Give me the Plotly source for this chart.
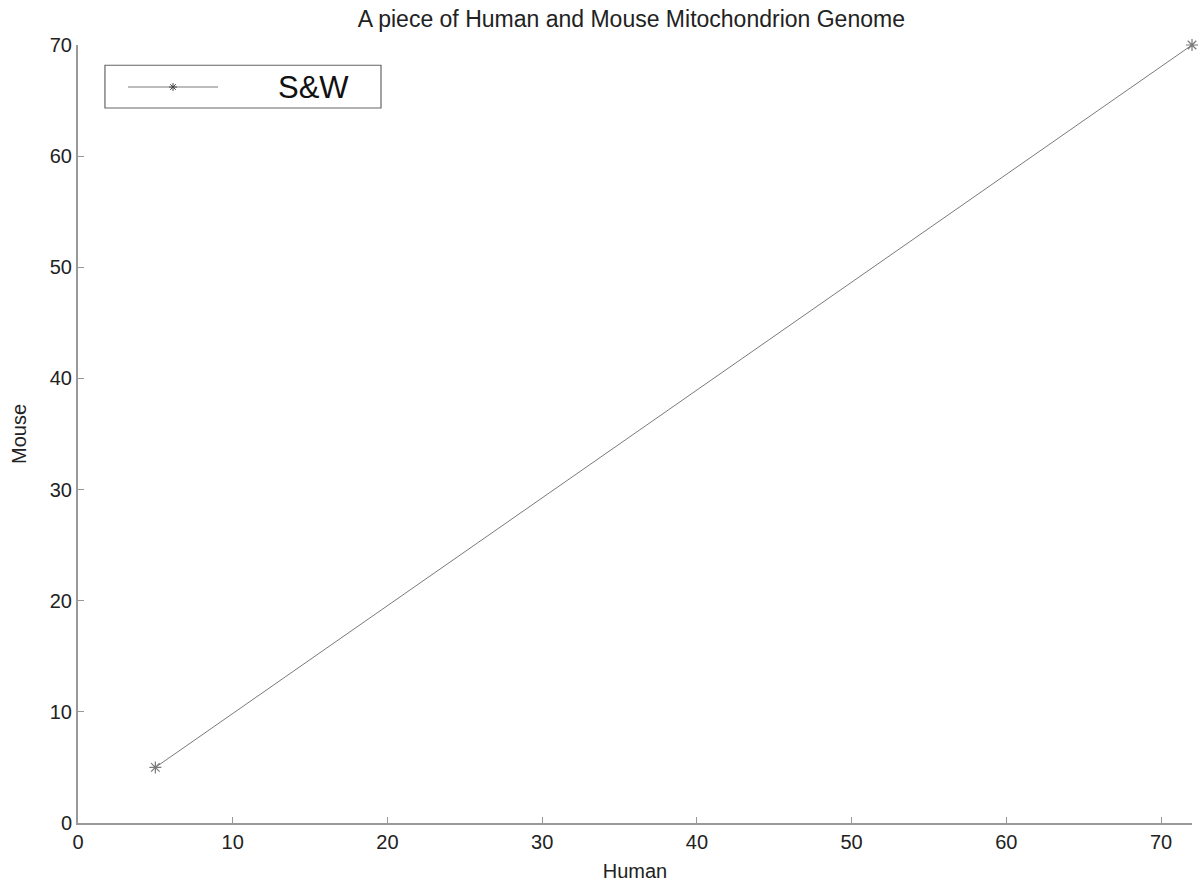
import plotly.graph_objects as go

# Alignment endpoints (Human position vs Mouse position)
human = [5, 72]
mouse = [5, 70]
series_name = "S&W"

x_ticks = [0, 10, 20, 30, 40, 50, 60, 70]
y_ticks = [0, 10, 20, 30, 40, 50, 60, 70]

FONT = "Liberation Sans, Arial, Helvetica, sans-serif"
AXIS_GRAY = "#999999"
LINE_GRAY = "#7a7a7a"
TEXT = "#222222"

fig = go.Figure()
fig.add_trace(go.Scatter(
    x=human, y=mouse, mode="lines+markers", name=series_name,
    line=dict(color=LINE_GRAY, width=1),
    marker=dict(symbol="asterisk-open", size=10,
                line=dict(color="#444444", width=1.2)),
    showlegend=False, cliponaxis=False,
))

axis_common = dict(
    showgrid=False, zeroline=False, showline=True, linecolor=AXIS_GRAY,
    linewidth=2, ticks="inside", ticklen=6, tickwidth=1, tickcolor=AXIS_GRAY,
    tickfont=dict(family=FONT, size=20, color=TEXT), mirror=False,
)

fig.update_layout(
    width=1198, height=887,
    margin=dict(l=78, r=6, t=45, b=64),
    paper_bgcolor="white", plot_bgcolor="white",
    title=dict(text="A piece of Human and Mouse Mitochondrion Genome",
               x=0.527, xanchor="center", y=0.979, yanchor="middle",
               font=dict(family=FONT, size=23, color=TEXT)),
    xaxis=dict(range=[0, 72], tickvals=x_ticks,
               title=dict(text="Human", font=dict(family=FONT, size=20, color=TEXT),
                          standoff=12),
               **axis_common),
    yaxis=dict(range=[0, 70], tickvals=y_ticks,
               title=dict(text="Mouse", font=dict(family=FONT, size=20, color=TEXT),
                          standoff=18),
               **axis_common),
)

# Legend box drawn by hand so the sample line can be long
leg_y = 0.946
fig.add_shape(type="rect", xref="paper", yref="paper",
              x0=0.0242, x1=0.272, y0=0.919, y1=0.974,
              line=dict(color="#666666", width=1.2), fillcolor="white")
fig.add_shape(type="line", xref="paper", yref="paper",
              x0=0.0449, x1=0.1257, y0=leg_y, y1=leg_y,
              line=dict(color=LINE_GRAY, width=1))
# asterisk sample on the legend line
cx, cy = 0.0853, leg_y
dx, dy = 4 / 1114, 4 / 778
for ax_, ay_ in [(dx, 0), (0, dy), (dx * 0.7, dy * 0.7), (dx * 0.7, -dy * 0.7)]:
    fig.add_shape(type="line", xref="paper", yref="paper",
                  x0=cx - ax_, x1=cx + ax_, y0=cy - ay_, y1=cy + ay_,
                  line=dict(color="#444444", width=1))
fig.add_annotation(text=series_name, xref="paper", yref="paper",
                   x=0.211, y=leg_y, xanchor="center", yanchor="middle",
                   showarrow=False, font=dict(family=FONT, size=31, color="#111111"))

fig.write_html("out.html")
